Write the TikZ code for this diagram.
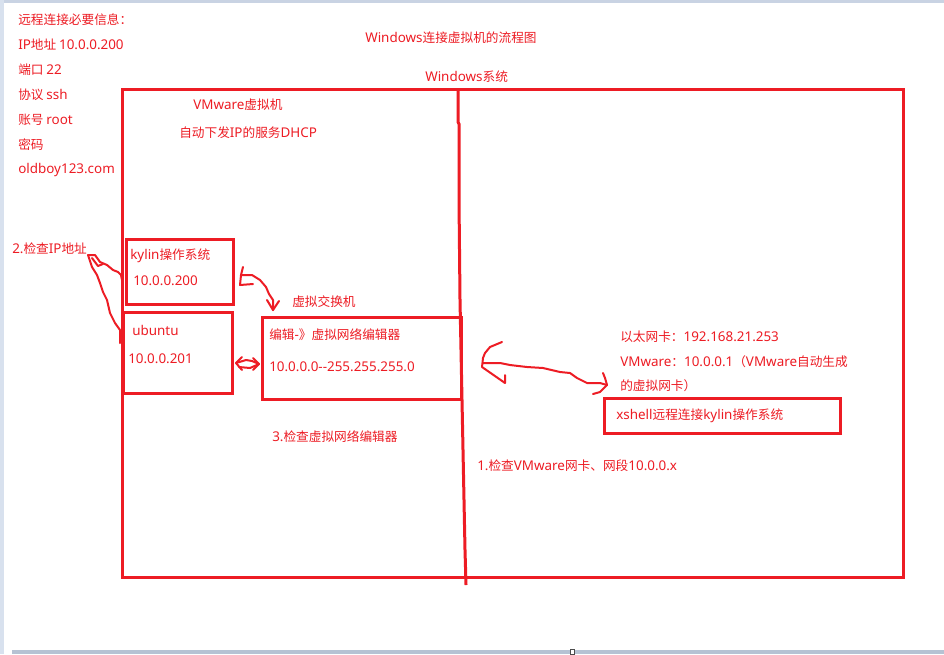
\documentclass[tikz,border=0pt]{standalone}
\usepackage{fontspec}
\setmainfont{Noto Sans CJK SC}
\newfontfamily\lat{Noto Sans}[Scale=1.06]
\usetikzlibrary{fit}
\definecolor{pr}{RGB}{237,28,36}
\definecolor{stripA}{RGB}{216,225,238}
\definecolor{stripB}{RGB}{201,211,227}
\definecolor{stripC}{RGB}{182,194,211}
\tikzset{
  txt/.style={anchor=west, inner sep=0pt, text=pr, font=\fontsize{9.5}{11}\selectfont},
  box/.style={draw=pr, line width=2.25pt, inner sep=0pt},
  hand/.style={draw=pr, line width=1.5pt, line join=round, line cap=round},
}
\begin{document}
\begin{tikzpicture}[x=0.75pt,y=-0.75pt]
\useasboundingbox (0,0) rectangle (944,654);
\fill[white] (0,0) rectangle (944,654);
\fill[stripB] (0,0) rectangle (944,2.5);
\fill[stripA] (0,0) rectangle (3.5,654);
\fill[stripC] (12,650) rectangle (944,654);
\fill[white, draw=black!70, line width=0.5pt] (570,649.5) rectangle (574,654);

% boxes
\node[box, fit={(122,89)(903,577)}] (win) {};
\node[box, fit={(126,239)(233,304)}] (kylin) {};
\node[box, fit={(123,312)(232,393)}] (ubuntu) {};
\node[box, fit={(262,317)(461,399)}] (sw) {};
\node[box, fit={(604,398)(840,433)}] (xs) {};

% divider
\coordinate (d1) at (458,89);
\coordinate (d2) at (466,585);
\draw[pr, line width=2.25pt] (d1) -- (458,122) -- (459,124) -- (459,200) -- (460,300) -- (462,400) -- (464,500) -- (465,550) -- (d2);

% texts
\node[txt] (t1) at (18,20) {远程连接必要信息：};
\node[txt] (t2) at (18,45) {{\lat IP}地址 {\lat 10.0.0.200}};
\node[txt] (t3) at (18,70) {端口 {\lat 22}};
\node[txt] (t4) at (18,95) {协议 {\lat ssh}};
\node[txt] (t5) at (18,120) {账号 {\lat root}};
\node[txt] (t6) at (18,145) {密码};
\node[txt] (t7) at (18,170) {{\lat oldboy123.com}};
\node[txt] (title) at (365,38) {{\lat Windows}连接虚拟机的流程图};
\node[txt] (wsys) at (425,77) {{\lat Windows}系统};
\node[txt] (vm) at (193,105) {{\lat VMware}虚拟机};
\node[txt] (dhcp) at (179,133) {自动下发{\lat IP}的服务{\lat DHCP}};
\node[txt] (chk2) at (12,249) {{\lat 2.}检查{\lat IP}地址};
\node[txt] (ky1) at (130,256) {{\lat kylin}操作系统};
\node[txt] (ky2) at (133,281) {{\lat 10.0.0.200}};
\node[txt] (ub1) at (132,330) {{\lat ubuntu}};
\node[txt] (ub2) at (128,359) {{\lat 10.0.0.201}};
\node[txt] (swl) at (292,302) {虚拟交换机};
\node[txt] (sw1) at (269,335) {编辑{\lat -}》虚拟网络编辑器};
\node[txt] (sw2) at (269,367) {{\lat 10.0.0.0\mbox{-}\mbox{-}255.255.255.0}};
\node[txt] (chk3) at (272,437) {{\lat 3.}检查虚拟网络编辑器};
\node[txt] (eth) at (620,337) {以太网卡：{\lat 192.168.21.253}};
\node[txt] (vmn1) at (620,362) {{\lat VMware}：{\lat 10.0.0.1}（{\lat VMware}自动生成};
\node[txt] (vmn2) at (620,386) {的虚拟网卡）};
\node[txt] (xst) at (616,416) {{\lat xshell}远程连接{\lat kylin}操作系统};
\node[txt] (chk1) at (477,466) {{\lat 1.}检查{\lat VMware}网卡、网段{\lat 10.0.0.x}};

% hand-drawn connector: 2.检查IP地址 -> kylin / ubuntu
\coordinate (h0) at (88,255);
\coordinate (h1) at (122,280);
\coordinate (h2) at (120,343);
\draw[hand] (h0) -- (95,255) -- (100,262) -- (107,265) -- (113,270) -- (118,272) -- (121,275) -- (h1);
\draw[hand] (h0) -- (92,267) -- (97,275) -- (100,283) -- (103,292) -- (107,300) -- (110,313) -- (115,323) -- (120,330) -- (h2);
\draw[hand] (92,258) -- (98,266) -- (103,264);

% kylin -> switch
\coordinate (k0) at (241,275);
\coordinate (k1) at (273,310);
\draw[hand] (243,267) -- (k0) -- (240,285) -- (253,284);
\draw[hand] (k0) -- (252,275) -- (260,280) -- (266,287) -- (269,294) -- (273,300) -- (k1);
\draw[hand] (267,300) -- (k1) -- (279,301);

% ubuntu <-> switch
\coordinate (u0) at (236,363);
\coordinate (u1) at (259,364);
\draw[hand] (242,357) -- (u0) -- (242,370);
\draw[hand] (u0) -- (246,360) -- (252,361) -- (u1);
\draw[hand] (239,367) -- (250,368) -- (u1);
\draw[hand] (253,358) -- (u1) -- (253,370);

% switch <-> vmware nic
\coordinate (r0) at (482,367);
\coordinate (r1) at (607,385);
\draw[hand] (502,342) -- (490,347) -- (485,353) -- (483,358) -- (r0) -- (505,383) -- (505,375);
\draw[hand] (483,363) -- (500,363) -- (510,365) -- (527,367) -- (543,368) -- (560,372) -- (570,373) -- (577,378) -- (587,383) -- (600,383) -- (r1);
\draw[hand] (603,373) -- (605,378) -- (r1) -- (600,392) -- (593,394);
\end{tikzpicture}
\end{document}
